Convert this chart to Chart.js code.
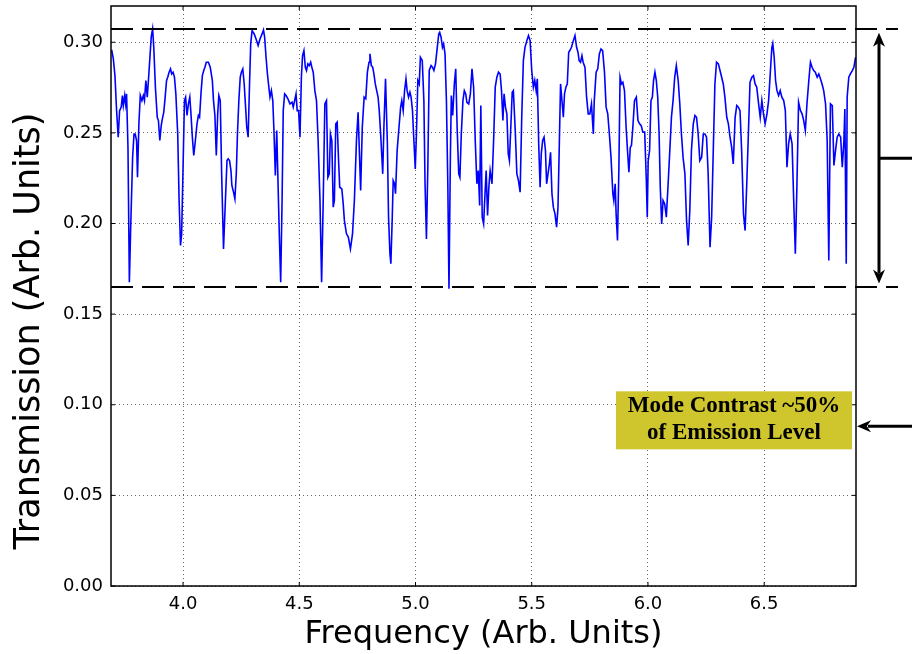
<!DOCTYPE html>
<html>
<head>
<meta charset="utf-8">
<script src="https://cdn.jsdelivr.net/npm/chart.js@4.4.1/dist/chart.umd.min.js"></script>
<style>
  html, body { margin: 0; padding: 0; background: #fff; }
  #wrap { width: 912px; height: 654px; position: relative; }
</style>
</head>
<body>
<div id="wrap"><canvas id="chart"></canvas></div>
<script>
// Frequency (arb. units)
const freq = [
  3.693,3.700,3.707,3.714,3.721,3.727,3.734,3.739,3.743,3.749,3.753,3.757,3.763,3.769,3.774,3.783,3.789,3.794,3.800,3.804,
  3.810,3.816,3.823,3.829,3.834,3.840,3.846,3.851,3.857,3.863,3.869,3.874,3.881,3.889,3.894,3.900,3.906,3.911,3.917,3.923,
  3.929,3.934,3.940,3.946,3.951,3.957,3.963,3.969,3.977,3.983,3.989,3.994,
  4.000,4.006,4.011,4.017,4.023,4.029,4.034,4.040,4.046,4.053,4.060,4.066,4.071,4.077,4.083,4.089,4.094,4.100,4.109,4.117,
  4.126,4.131,4.137,4.143,4.149,4.154,4.160,4.166,4.174,4.181,4.189,4.194,4.200,4.206,4.210,4.217,4.223,4.229,4.234,4.240,
  4.246,4.251,4.257,4.263,4.269,4.274,4.280,4.286,4.291,4.297,4.306,4.314,4.323,4.331,4.340,4.346,4.351,4.357,4.363,4.369,
  4.374,4.380,4.386,4.391,4.397,4.403,4.409,4.414,4.420,4.426,4.431,4.437,4.443,4.451,4.460,4.469,4.474,4.480,4.486,4.491,4.497,
  4.503,4.509,4.514,4.520,4.526,4.531,4.537,4.543,4.549,4.554,4.560,4.567,4.574,4.581,4.589,4.596,4.603,4.610,4.617,4.623,
  4.629,4.634,4.640,4.646,4.651,4.657,4.663,4.669,4.674,4.683,4.689,4.694,4.703,4.711,4.720,4.729,4.737,4.746,4.753,
  4.764,4.771,4.779,4.786,4.793,4.800,4.804,4.810,4.816,4.821,4.827,4.833,4.839,4.844,4.850,4.859,4.864,4.871,4.879,4.884,
  4.890,4.894,4.900,4.904,4.910,4.914,4.921,4.929,4.936,4.941,4.947,4.953,4.959,4.964,4.970,4.976,4.981,4.987,4.993,4.999,
  5.004,5.010,5.016,5.021,5.029,5.036,5.041,5.047,5.053,5.059,5.067,5.073,5.079,5.086,5.093,5.100,5.104,5.110,5.116,5.121,
  5.127,5.133,5.139,5.144,5.150,5.154,5.160,5.167,5.173,5.179,5.186,5.191,5.197,5.204,5.210,5.216,5.221,5.229,5.236,5.243,
  5.250,5.257,5.264,5.270,5.276,5.281,5.287,5.293,5.299,5.304,5.310,5.316,5.321,5.329,5.336,5.343,5.350,5.357,5.364,5.370,
  5.376,5.381,5.387,5.393,5.399,5.404,5.410,5.416,5.421,5.429,5.436,5.443,5.450,5.457,5.464,5.471,5.479,5.486,5.493,5.500,
  5.507,5.513,5.519,5.524,5.530,5.536,5.541,5.547,5.553,5.559,5.564,5.570,5.576,5.581,5.587,5.593,5.600,5.607,5.613,5.619,
  5.624,5.630,5.636,5.641,5.647,5.653,5.659,5.664,5.671,5.679,5.686,5.693,5.699,5.704,5.710,5.716,5.721,5.729,5.736,5.743,
  5.750,5.757,5.765,
  5.769,5.777,5.784,5.791,5.798,5.805,5.813,5.820,5.827,5.834,5.841,5.849,5.853,5.859,5.863,5.869,5.875,5.880,5.886,5.892,
  5.899,5.906,5.912,5.918,5.924,5.929,5.935,5.942,5.950,5.957,5.964,5.971,5.978,5.986,5.993,5.997,6.001,6.007,6.013,6.019,
  6.024,6.030,6.036,6.042,6.048,6.053,6.059,6.065,6.072,6.079,6.086,6.094,6.101,6.108,6.115,6.122,6.130,6.137,6.144,6.151,
  6.159,6.166,6.173,6.180,6.187,6.195,6.202,6.209,6.216,6.223,6.231,6.238,6.245,6.252,6.259,6.267,6.274,6.281,6.288,6.295,
  6.303,6.310,6.317,6.324,6.331,6.339,6.346,6.353,6.360,6.367,6.375,6.382,6.389,6.396,6.403,6.411,6.418,6.425,6.432,6.439,
  6.447,6.454,6.461,6.468,6.476,6.483,6.490,6.497,6.504,6.512,6.519,6.526,6.533,6.537,6.543,6.549,6.555,6.562,6.569,6.576,
  6.584,6.591,6.598,6.605,6.612,6.620,6.627,6.634,6.641,6.648,6.656,6.663,6.670,6.677,6.684,6.692,6.699,6.706,6.713,6.720,
  6.728,6.735,6.742,6.749,6.756,6.764,6.771,6.778,6.785,6.793,6.800,6.807,6.814,6.821,6.829,6.836,6.843,6.847,6.853,6.857,
  6.864,6.871,6.879,6.886,6.893
];

// Transmission (arb. units) at each frequency
const trans = [
  0.2958,0.2908,0.2816,0.2623,0.2476,0.2623,0.2642,0.2706,0.2651,0.2706,0.2660,0.2715,0.2421,0.1676,0.1943,0.2366,0.2494,0.2494,0.2458,0.2255,
  0.2550,0.2706,0.2678,0.2706,0.2678,0.2789,0.2697,0.2789,0.2908,0.3028,0.3074,0.2972,0.2752,0.2586,0.2568,0.2458,0.2540,0.2577,0.2614,0.2697,
  0.2789,0.2807,0.2835,0.2853,0.2825,0.2835,0.2807,0.2715,0.2494,0.2127,0.1879,0.1943,
  0.2311,0.2678,0.2697,0.2596,0.2660,0.2697,0.2605,0.2476,0.2375,0.2458,0.2550,0.2596,0.2586,0.2715,0.2816,0.2844,0.2862,0.2890,0.2890,0.2862,
  0.2789,0.2678,0.2596,0.2375,0.2605,0.2706,0.2678,0.2274,0.1860,0.2090,0.2347,0.2357,0.2347,0.2292,0.2210,0.2173,0.2136,0.2274,0.2494,0.2678,
  0.2807,0.2835,0.2853,0.2770,0.2642,0.2531,0.2476,0.2770,0.2991,0.3064,0.3046,0.3018,0.2982,0.3018,0.3046,0.3068,0.3028,0.2917,0.2825,0.2752,
  0.2697,0.2733,0.2678,0.2513,0.2265,0.2513,0.2200,0.1943,0.1676,0.2127,0.2623,0.2715,0.2706,0.2688,0.2660,0.2669,0.2642,0.2678,0.2715,0.2623,0.2623,
  0.2476,0.2807,0.2926,0.2954,0.2862,0.2844,0.2881,0.2871,0.2890,0.2862,0.2835,0.2733,0.2678,0.2458,0.2127,0.1676,0.2127,0.2660,0.2678,0.2255,
  0.2274,0.2494,0.2458,0.2090,0.2127,0.2550,0.2559,0.2347,0.2200,0.2191,0.2108,0.2017,0.1943,0.1925,0.1860,0.1943,0.2127,0.2458,0.2614,
  0.2182,0.2531,0.2697,0.2688,0.2835,0.2890,0.2936,0.2871,0.2862,0.2825,0.2770,0.2733,0.2697,0.2623,0.2494,0.2274,0.2531,0.2798,0.2439,0.2035,
  0.1833,0.1778,0.2035,0.2237,0.2219,0.2164,0.2403,0.2531,0.2642,0.2678,0.2623,0.2733,0.2798,0.2733,0.2697,0.2724,0.2697,0.2623,0.2458,0.2301,
  0.2494,0.2789,0.2770,0.2917,0.2899,0.2678,0.2219,0.1915,0.2311,0.2844,0.2871,0.2862,0.2844,0.2881,0.2963,0.3046,0.3055,0.3028,0.2972,0.2991,
  0.2936,0.2678,0.2219,0.1640,0.2366,0.2706,0.2596,0.2770,0.2853,0.2531,0.2274,0.2255,0.2494,0.2678,0.2733,0.2715,0.2669,0.2660,0.2715,0.2853,
  0.2752,0.2458,0.2219,0.2292,0.2099,0.2651,0.2035,0.1998,0.2164,0.2292,0.2044,0.2210,0.2292,0.2219,0.2458,0.2752,0.2807,0.2835,0.2825,0.2733,
  0.2568,0.2715,0.2642,0.2605,0.2384,0.2347,0.2531,0.2724,0.2733,0.2513,0.2274,0.2237,0.2173,0.2586,0.2899,0.2972,0.3009,0.3037,0.3009,0.2844,
  0.2752,0.2789,0.2733,0.2798,0.2439,0.2200,0.2384,0.2458,0.2476,0.2403,0.2219,0.2274,0.2329,0.2393,0.2164,0.2090,0.2053,0.1980,0.2090,0.2458,
  0.2770,0.2678,0.2586,0.2715,0.2752,0.2770,0.2945,0.2954,0.2972,0.3009,0.3037,0.2972,0.2945,0.2899,0.2890,0.2926,0.2890,0.2862,0.2697,0.2605,
  0.2605,0.2660,0.2494,
  0.2678,0.2835,0.2853,0.2936,0.2963,0.2954,0.2835,0.2642,0.2605,0.2494,0.2366,0.2164,0.2127,0.2219,0.2053,0.1906,0.2311,0.2807,0.2770,0.2779,
  0.2733,0.2531,0.2403,0.2283,0.2421,0.2430,0.2531,0.2678,0.2697,0.2568,0.2550,0.2540,0.2504,0.2504,0.2237,0.2035,0.2347,0.2403,0.2678,0.2697,
  0.2789,0.2835,0.2789,0.2697,0.2494,0.2200,0.1998,0.2127,0.2108,0.2035,0.2200,0.2403,0.2586,0.2678,0.2807,0.2871,0.2789,0.2660,0.2494,0.2366,
  0.2274,0.2017,0.1879,0.2072,0.2403,0.2550,0.2596,0.2586,0.2494,0.2347,0.2366,0.2494,0.2494,0.2476,0.2274,0.1869,0.2035,0.2403,0.2770,0.2890,
  0.2881,0.2844,0.2807,0.2770,0.2697,0.2586,0.2550,0.2476,0.2421,0.2329,0.2586,0.2651,0.2642,0.2623,0.2403,0.2053,0.1961,0.2219,0.2494,0.2779,
  0.2807,0.2816,0.2770,0.2752,0.2660,0.2586,0.2678,0.2605,0.2550,0.2605,0.2678,0.2825,0.2972,0.2994,0.2917,0.2789,0.2733,0.2706,0.2733,0.2697,
  0.2678,0.2623,0.2311,0.2439,0.2494,0.2439,0.2127,0.1833,0.2219,0.2669,0.2623,0.2605,0.2568,0.2513,0.2660,0.2789,0.2890,0.2862,0.2844,0.2835,
  0.2807,0.2825,0.2798,0.2770,0.2733,0.2660,0.2458,0.1796,0.2660,0.2651,0.2320,0.2403,0.2476,0.2494,0.2476,0.2311,0.2458,0.2632,0.1778,0.2697,
  0.2807,0.2825,0.2844,0.2862,0.2917
];

const xTicks = [4.0, 4.5, 5.0, 5.5, 6.0, 6.5];
const yTicks = [0.00, 0.05, 0.10, 0.15, 0.20, 0.25, 0.30];

// emission maximum and minimum (dashed guide lines)
const levels = [0.3074, 0.1647];
const noteLines = ["Mode Contrast ~50%", "of Emission Level"];
const noteLevel = 0.0881;
const yTitle = "Transmission (Arb. Units)";

function line(ctx, x1, y1, x2, y2) {
  ctx.beginPath();
  ctx.moveTo(x1, y1);
  ctx.lineTo(x2, y2);
  ctx.stroke();
}

// filled arrow head with tip at (x, y), pointing along (dx, dy)
function head(ctx, x, y, dx, dy) {
  const len = 14, half = 6;
  const px = -dy, py = dx;
  ctx.beginPath();
  ctx.moveTo(x, y);
  ctx.lineTo(x - dx * len + px * half, y - dy * len + py * half);
  ctx.lineTo(x - dx * len * 0.7, y - dy * len * 0.7);
  ctx.lineTo(x - dx * len - px * half, y - dy * len - py * half);
  ctx.closePath();
  ctx.fill();
}

const extras = {
  id: "extras",
  beforeDraw(chart) {
    const ctx = chart.ctx;
    ctx.save();
    ctx.fillStyle = "#fff";
    ctx.fillRect(0, 0, chart.width, chart.height);
    ctx.restore();
  },
  afterDraw(chart) {
    const { ctx, chartArea: a, scales: { x, y } } = chart;
    ctx.save();
    ctx.strokeStyle = "#000";
    ctx.fillStyle = "#000";

    // small inward ticks on all four sides
    ctx.lineWidth = 1;
    xTicks.forEach(v => {
      const px = x.getPixelForValue(v);
      line(ctx, px, a.bottom, px, a.bottom - 4);
      line(ctx, px, a.top, px, a.top + 4);
    });
    yTicks.forEach(v => {
      const py = y.getPixelForValue(v);
      line(ctx, a.left, py, a.left + 4, py);
      line(ctx, a.right, py, a.right - 4, py);
    });

    // frame
    ctx.lineWidth = 1.5;
    ctx.strokeRect(a.left, a.top, a.right - a.left, a.bottom - a.top);

    // dashed emission levels
    ctx.lineWidth = 2;
    ctx.setLineDash([22, 9]);
    levels.forEach(v => {
      const py = Math.round(y.getPixelForValue(v));
      line(ctx, a.left, py, a.right + 42, py);
    });
    ctx.setLineDash([]);

    // double-headed arrow between levels
    const ax = a.right + 23;
    const yTop = y.getPixelForValue(levels[0]) + 4;
    const yBot = y.getPixelForValue(levels[1]) - 4;
    ctx.lineWidth = 3;
    line(ctx, ax, yTop + 10, ax, yBot - 10);
    head(ctx, ax, yTop, 0, -1);
    head(ctx, ax, yBot, 0, 1);
    const yMid = (y.getPixelForValue(levels[0]) + y.getPixelForValue(levels[1])) / 2;
    line(ctx, ax, yMid, chart.width, yMid);

    // arrow pointing at the plot edge
    const yn = y.getPixelForValue(noteLevel);
    line(ctx, chart.width, yn, a.right + 12, yn);
    head(ctx, a.right + 1, yn, -1, 0);

    // note box
    const bx0 = a.right - 240, bx1 = a.right - 4;
    const by0 = yn - 35, by1 = yn + 23;
    ctx.fillStyle = "#cfc62d";
    ctx.fillRect(bx0, by0, bx1 - bx0, by1 - by0);
    ctx.fillStyle = "#000";
    ctx.font = "bold 23px 'Liberation Serif', 'Times New Roman', serif";
    ctx.textAlign = "center";
    ctx.textBaseline = "alphabetic";
    const cx = (bx0 + bx1) / 2;
    ctx.fillText(noteLines[0], cx, by0 + 21);
    ctx.fillText(noteLines[1], cx, by0 + 48);

    // y axis title (sits a little below the plot centre in the original)
    ctx.translate(30, (a.top + a.bottom) / 2 + 35);
    ctx.rotate(-Math.PI / 2);
    ctx.font = "35px 'DejaVu Sans', sans-serif";
    ctx.textBaseline = "middle";
    ctx.fillText(yTitle, 0, 0);

    ctx.restore();
  }
};

const tickFont = { family: "'DejaVu Sans', sans-serif", size: 18 };

new Chart(document.getElementById("chart"), {
  type: "line",
  data: {
    datasets: [{
      data: freq.map((f, i) => ({ x: f, y: trans[i] })),
      borderColor: "#0000ff",
      borderWidth: 1.6,
      pointRadius: 0,
      tension: 0,
      fill: false
    }]
  },
  options: {
    responsive: true,
    maintainAspectRatio: false,
    animation: false,
    layout: { padding: { left: 0, right: 56, top: 6, bottom: 0 } },
    plugins: { legend: { display: false }, tooltip: { enabled: false } },
    scales: {
      x: {
        type: "linear",
        min: 3.69,
        max: 6.895,
        afterFit: s => { s.height = 68; s.paddingLeft = 0; s.paddingRight = 0; },
        afterBuildTicks: s => { s.ticks = xTicks.map(v => ({ value: v })); },
        ticks: {
          callback: v => v.toFixed(1),
          font: tickFont,
          color: "#000",
          padding: 8,
          maxRotation: 0
        },
        grid: { color: "rgba(0,0,0,0.6)", lineWidth: 1, drawTicks: false, tickLength: 0 },
        border: { display: false, dash: [1, 3] },
        title: {
          display: true,
          text: "Frequency (Arb. Units)",
          font: { family: "'DejaVu Sans', sans-serif", size: 32 },
          color: "#000",
          padding: { top: 0, bottom: 0 }
        }
      },
      y: {
        min: 0,
        max: 0.32,
        afterFit: s => { s.width = 111; s.paddingTop = 0; s.paddingBottom = 0; },
        afterBuildTicks: s => { s.ticks = yTicks.map(v => ({ value: v })); },
        ticks: {
          callback: v => v.toFixed(2),
          font: tickFont,
          color: "#000",
          padding: 8
        },
        grid: { color: "rgba(0,0,0,0.6)", lineWidth: 1, drawTicks: false, tickLength: 0 },
        border: { display: false, dash: [1, 3] },
        title: { display: false }
      }
    }
  },
  plugins: [extras]
});
</script>
</body>
</html>
